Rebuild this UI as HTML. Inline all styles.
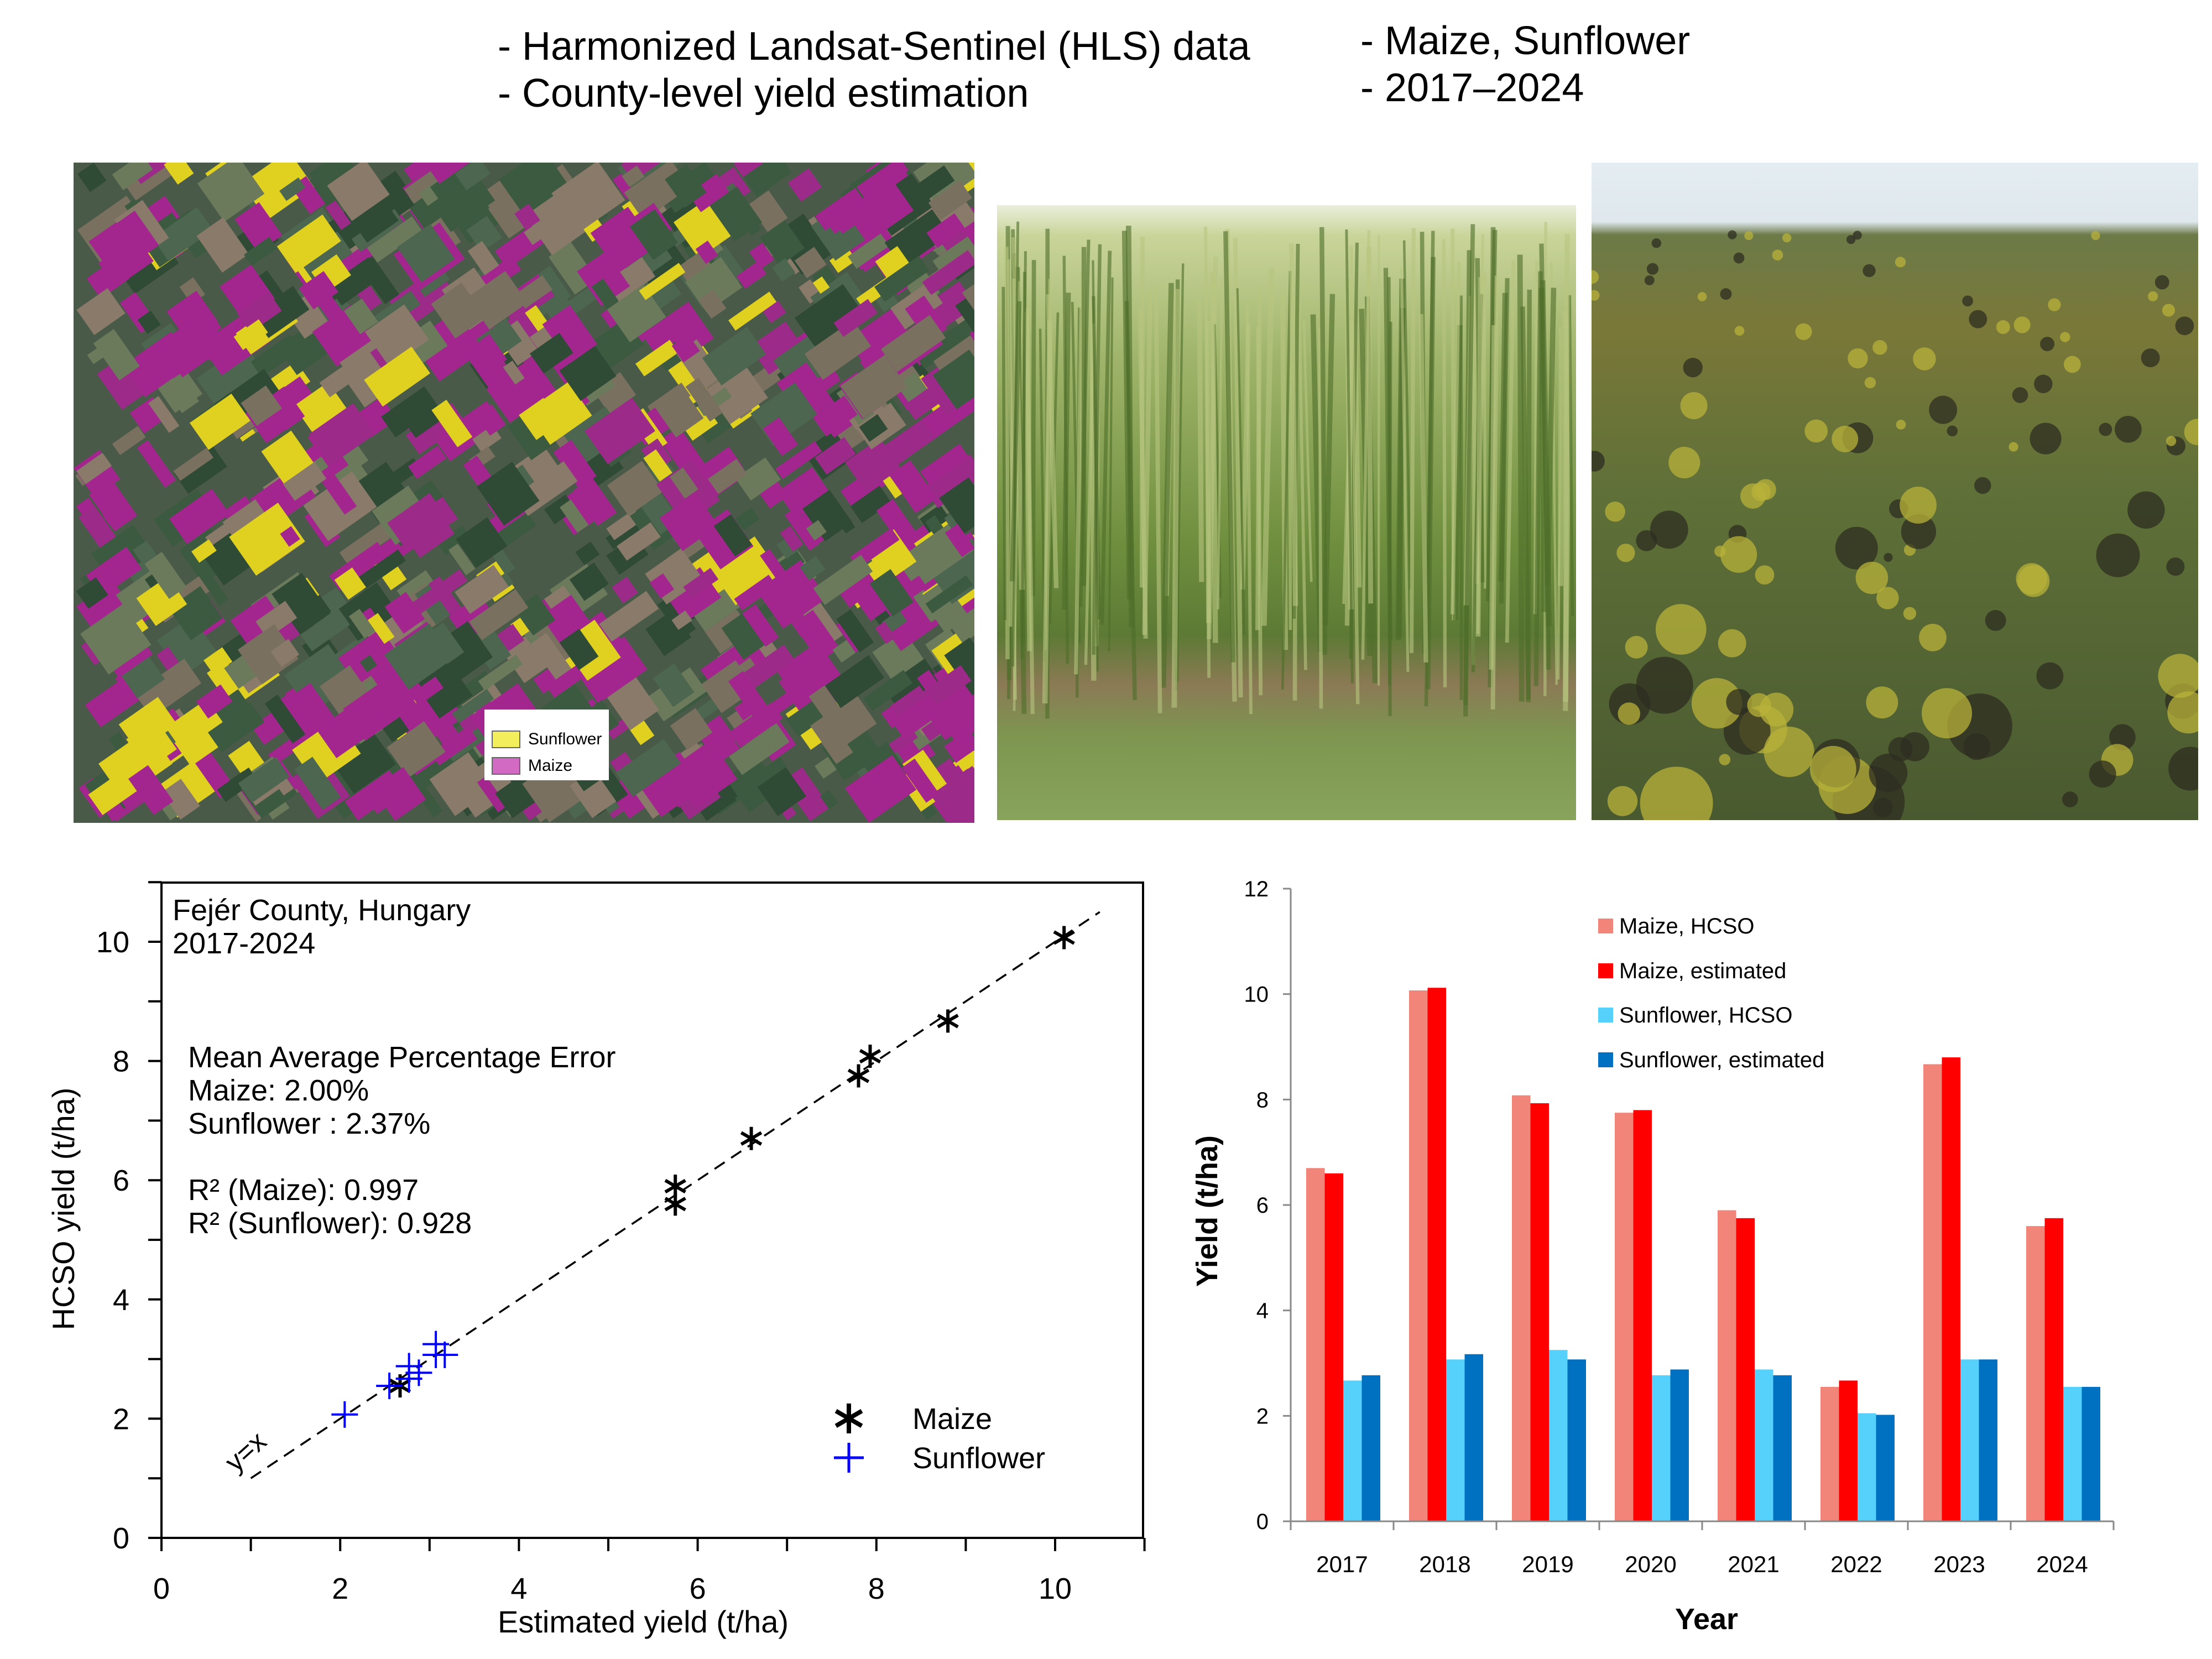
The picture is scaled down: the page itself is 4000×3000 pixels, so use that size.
<!DOCTYPE html>
<html><head><meta charset="utf-8">
<style>
html,body{margin:0;padding:0;background:#fff;}
svg{display:block;font-family:"Liberation Sans",sans-serif;}
</style></head>
<body>
<svg id="root" width="4000" height="3000" viewBox="0 0 4000 3000" xmlns="http://www.w3.org/2000/svg">
<defs>
  <linearGradient id="cornG" x1="0" y1="0" x2="0" y2="1">
    <stop offset="0" stop-color="#e9efda"/>
    <stop offset="0.05" stop-color="#c9d49a"/>
    <stop offset="0.25" stop-color="#9fb46a"/>
    <stop offset="0.55" stop-color="#6f8f3e"/>
    <stop offset="0.7" stop-color="#5d7a35"/>
    <stop offset="0.78" stop-color="#8b7a55"/>
    <stop offset="0.86" stop-color="#7d9550"/>
    <stop offset="1" stop-color="#88a45c"/>
  </linearGradient>
  <linearGradient id="sunG" x1="0" y1="0" x2="0" y2="1">
    <stop offset="0" stop-color="#e4edf2"/>
    <stop offset="0.09" stop-color="#dfe8ec"/>
    <stop offset="0.11" stop-color="#6c7a48"/>
    <stop offset="0.25" stop-color="#7a7838"/>
    <stop offset="0.5" stop-color="#5f7038"/>
    <stop offset="1" stop-color="#4a5a30"/>
  </linearGradient>
</defs>

<!-- header text -->
<g font-size="72" fill="#000">
  <text x="900" y="108">- Harmonized Landsat-Sentinel (HLS) data</text>
  <text x="900" y="193">- County-level yield estimation</text>
  <text x="2460" y="98">- Maize, Sunflower</text>
  <text x="2460" y="183">- 2017–2024</text>
</g>

<!-- satellite map -->
<g>
  <rect x="133" y="294" width="1629" height="1194" fill="#4a5a48"/>
  <g id="mapcells"></g>
  <g>
    <rect x="876" y="1283" width="225" height="128" fill="#fff"/>
    <rect x="890" y="1322" width="50" height="30" fill="#f3ef5c" stroke="#666" stroke-width="2"/>
    <text x="955" y="1346" font-size="30" fill="#000">Sunflower</text>
    <rect x="890" y="1370" width="50" height="30" fill="#d26ac3" stroke="#666" stroke-width="2"/>
    <text x="955" y="1394" font-size="30" fill="#000">Maize</text>
  </g>
</g>

<!-- corn photo -->
<g>
  <rect x="1803" y="371" width="1047" height="1112" fill="url(#cornG)"/>
  <g id="cornstalks"></g>
</g>
<!-- sunflower photo -->
<g>
  <rect x="2878" y="294" width="1097" height="1189" fill="url(#sunG)"/>
  <g id="sunheads"></g>
</g>

<!-- scatter chart -->
<g id="scatter"></g>
<!-- bar chart -->
<g id="bars"></g>
</svg>

<script>
// ---------- scatter data ----------
const maizeEst  = [6.6, 10.1, 7.93, 7.8, 5.75, 2.67, 8.8, 5.75];
const maizeHcso = [6.7, 10.07, 8.08, 7.75, 5.9, 2.55, 8.67, 5.6];
const sunEst    = [2.77, 3.17, 3.07, 2.88, 2.77, 2.05, 3.07, 2.55];
const sunHcso   = [2.67, 3.07, 3.25, 2.77, 2.88, 2.07, 3.07, 2.55];
const scatterXTicks = [0, 2, 4, 6, 8, 10];
const scatterYTicks = [0, 2, 4, 6, 8, 10];

// ---------- bar data ----------
const years = ["2017","2018","2019","2020","2021","2022","2023","2024"];
const barMaizeHcso = [6.7, 10.07, 8.08, 7.75, 5.9, 2.55, 8.67, 5.6];
const barMaizeEst  = [6.6, 10.12, 7.93, 7.8, 5.75, 2.67, 8.8, 5.75];
const barSunHcso   = [2.67, 3.07, 3.25, 2.77, 2.88, 2.05, 3.07, 2.55];
const barSunEst    = [2.77, 3.17, 3.07, 2.88, 2.77, 2.02, 3.07, 2.55];
const barYTicks = [0, 2, 4, 6, 8, 10, 12];
const seriesNames = ["Maize, HCSO","Maize, estimated","Sunflower, HCSO","Sunflower, estimated"];

const NS = "http://www.w3.org/2000/svg";
function mk(tag, attrs, parent, txt){
  const e = document.createElementNS(NS, tag);
  for (const k in attrs) e.setAttribute(k, attrs[k]);
  if (txt !== undefined) e.textContent = txt;
  parent.appendChild(e);
  return e;
}

// ---------- decorative imagery ----------
(function(){
  let s = 12345;
  function rnd(){ s = (s*1103515245 + 12345) % 2147483648; return s/2147483648; }
  const g = document.getElementById('mapcells');
  const cols = ["#a3268f","#a3268f","#9c2a88","#2f4a35","#3c5a40","#6b7a5a","#7a7060","#e0d020","#a3268f","#4c6650","#8a7a6a"];
  for (let i=0;i<900;i++){
    const x = 133 + rnd()*1629, y = 294 + rnd()*1194;
    const w = 20 + rnd()*90, h = 20 + rnd()*70;
    const c = cols[Math.floor(rnd()*cols.length)];
    mk('rect',{x:Math.min(x,1762-w),y:Math.min(y,1488-h),width:w,height:h,fill:c,transform:`rotate(-35 ${x} ${y})`},g);
  }
  const cp = mk('clipPath',{id:'mapclip'},document.querySelector('defs'));
  mk('rect',{x:133,y:294,width:1629,height:1194},cp);
  g.setAttribute('clip-path','url(#mapclip)');
  const cg = document.getElementById('cornstalks');
  for (let i=0;i<140;i++){
    const x = 1803 + rnd()*1047, y0 = 400 + rnd()*200, y1 = 1050 + rnd()*250;
    mk('line',{x1:x,y1:y0,x2:x+(rnd()-0.5)*30,y2:y1,stroke:rnd()<0.5?"#4e6e2a":"#b8c680","stroke-width":4+rnd()*6,opacity:0.6},cg);
  }
  const sg = document.getElementById('sunheads');
  const cp2 = mk('clipPath',{id:'sunclip'},document.querySelector('defs'));
  mk('rect',{x:2878,y:294,width:1097,height:1189},cp2);
  sg.setAttribute('clip-path','url(#sunclip)');
  for (let i=0;i<120;i++){
    const y = 420 + rnd()*1050, x = 2878 + rnd()*1097, r = 8 + (y-420)/1050*60*rnd();
    mk('circle',{cx:x,cy:y,r:r,fill:rnd()<0.5?"#2e2d20":"#b8b23a",opacity:0.75},sg);
  }
})();

// ---------- scatter chart ----------
(function(){
  const g = document.getElementById('scatter');
  const L=292, R=2067, T=1596, B=2781;
  const xs = v => L + v*161.6;
  const ys = v => B - v*107.8;
  const box = mk('rect',{x:L,y:T,width:R-L,height:B-T,fill:"none",stroke:"#000","stroke-width":4},g);
  
  
  for (let v=0; v<=11; v++){
    const x = xs(v);
    const t = mk('line',{x1:x,y1:B,x2:x,y2:B+24,stroke:"#000","stroke-width":4},g);
    
    
    const y = ys(v);
    const t2 = mk('line',{x1:L-24,y1:y,x2:L,y2:y,stroke:"#000","stroke-width":4},g);
    
    
  }
  scatterXTicks.forEach(v=>{
    const t = mk('text',{x:xs(v),y:2891,"font-size":54,"text-anchor":"middle"},g,String(v));
    
    
  });
  scatterYTicks.forEach(v=>{
    const t = mk('text',{x:234,y:ys(v)+19,"font-size":54,"text-anchor":"end"},g,String(v));
    
    
  });
  const xt = mk('text',{x:1163,y:2952,"font-size":56,"text-anchor":"middle"},g,"Estimated yield (t/ha)");
  
  
  const yt = mk('text',{x:0,y:0,"font-size":56,"text-anchor":"middle",transform:"translate(134 2186) rotate(-90)"},g,"HCSO yield (t/ha)");
  
  
  const dl = mk('line',{x1:xs(1),y1:ys(1),x2:xs(10.5),y2:ys(10.5),stroke:"#000","stroke-width":3.5,"stroke-dasharray":"22 14"},g);
  
  
  const yx = mk('text',{x:0,y:0,"font-size":50,transform:`translate(426 2664) rotate(-42)`},g,"y=x");
  
  
  const ann = [["Fejér County, Hungary",312,1664],["2017-2024",312,1724],
    ["Mean Average Percentage Error",340,1930],["Maize: 2.00%",340,1990],["Sunflower : 2.37%",340,2050],
    ["R² (Maize): 0.997",340,2170],["R² (Sunflower): 0.928",340,2230]];
  ann.forEach(a=>{
    const t = mk('text',{x:a[1],y:a[2],"font-size":54},g,a[0]);
    
    
  });
  function star(cx,cy,r,parent,w){
    const grp = mk('g',{stroke:"#000","stroke-width":w||5},parent);
    for (let k=0;k<3;k++){
      const a = Math.PI/2 + k*Math.PI/3;
      mk('line',{x1:cx+r*Math.cos(a),y1:cy-r*Math.sin(a),x2:cx-r*Math.cos(a),y2:cy+r*Math.sin(a)},grp);
    }
    return grp;
  }
  function plus(cx,cy,r,parent,w){
    const grp = mk('g',{stroke:"#0000ff","stroke-width":w||4},parent);
    mk('line',{x1:cx-r,y1:cy,x2:cx+r,y2:cy},grp);
    mk('line',{x1:cx,y1:cy-r,x2:cx,y2:cy+r},grp);
    return grp;
  }
  maizeEst.forEach((v,i)=>{
    const m = star(xs(v),ys(maizeHcso[i]),21,g,6);
    
    
  });
  sunEst.forEach((v,i)=>{
    const m = plus(xs(v),ys(sunHcso[i]),24,g);
    
    
  });
  const lm = star(1535,2565,27,g,8);
  
  
  const lmt = mk('text',{x:1650,y:2584,"font-size":54},g,"Maize");
  
  
  const ls = plus(1535,2636,27,g,5);
  
  
  const lst = mk('text',{x:1650,y:2655,"font-size":54},g,"Sunflower");
  
  
})();

// ---------- bar chart ----------
(function(){
  const g = document.getElementById('bars');
  const L=2334, R=3822, T=1607, B=2751;
  const ys = v => B - v*(B-T)/12;
  const gw = (R-L)/years.length;
  const bw = 33.5, gap = 28;
  const colors = ["#f28579","#ff0000","#55d1fc","#0070c0"];
  const series = [barMaizeHcso, barMaizeEst, barSunHcso, barSunEst];
  const names = ['bar-maize-hcso','bar-maize-estimated','bar-sunflower-hcso','bar-sunflower-estimated'];
  series.forEach((arr,si)=>{
    arr.forEach((v,i)=>{
      const x = L + i*gw + gap + si*bw;
      const r = mk('rect',{x:x,y:ys(v),width:bw,height:B-ys(v),fill:colors[si]},g);
      
      
    });
  });
  mk('line',{x1:L,y1:T,x2:L,y2:B,stroke:"#888","stroke-width":3},g);
  mk('line',{x1:L-14,y1:B,x2:R,y2:B,stroke:"#888","stroke-width":3},g);
  barYTicks.forEach(v=>{
    const y = ys(v);
    mk('line',{x1:L-14,y1:y,x2:L,y2:y,stroke:"#888","stroke-width":3},g);
    const t = mk('text',{x:2294,y:y+14,"font-size":40,"text-anchor":"end"},g,String(v));
    
    
  });
  for (let i=0;i<=years.length;i++){
    const x = L + i*gw;
    mk('line',{x1:x,y1:B,x2:x,y2:B+16,stroke:"#888","stroke-width":3},g);
  }
  years.forEach((yr,i)=>{
    const t = mk('text',{x:L+i*gw+gw/2,y:2843,"font-size":42,"text-anchor":"middle"},g,yr);
    
    
  });
  const xt = mk('text',{x:3086,y:2946,"font-size":54,"font-weight":"bold","text-anchor":"middle"},g,"Year");
  
  
  const yt = mk('text',{x:0,y:0,"font-size":54,"font-weight":"bold","text-anchor":"middle",transform:"translate(2201 2190) rotate(-90)"},g,"Yield (t/ha)");
  
  
  const ly = [1674,1755,1835,1916];
  seriesNames.forEach((n,i)=>{
    const sq = mk('rect',{x:2890,y:ly[i]-13,width:27,height:27,fill:colors[i]},g);
    
    
    const t = mk('text',{x:2928,y:ly[i]+14,"font-size":40},g,n);
    
    
  });
})();
</script>
</body></html>
